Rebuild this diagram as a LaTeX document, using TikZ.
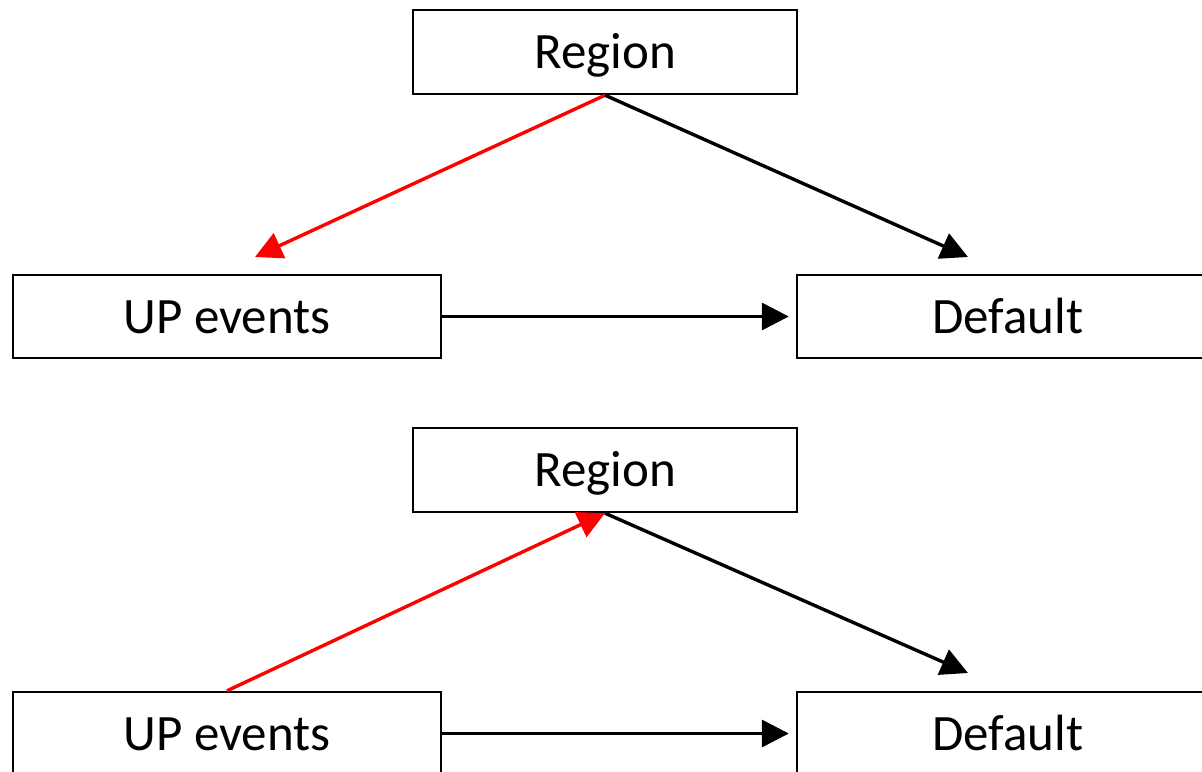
\documentclass[tikz,border=0pt]{standalone}
\usepackage{fontspec}
\setmainfont{Carlito}
\usetikzlibrary{arrows.meta}
\begin{document}
\begin{tikzpicture}[x=1pt,y=-1pt,
  box/.style={draw=black,line width=2.4pt,inner sep=0pt,text height=33pt,text depth=0pt,font=\fontsize{51}{60}\selectfont},
  conn/.style={line width=3.4pt,-{Triangle[length=27pt,width=27pt]}},
  redconn/.style={conn,draw=red,fill=red}]
\useasboundingbox (0,0) rectangle (1202,771);
\begin{scope}
\clip (0,0) rectangle (1202,771);
% top panel
\node[box,minimum width=384pt,minimum height=84pt] (r1) at (605,52) {Region};
\node[box,minimum width=428pt,minimum height=83pt] (u1) at (227,316.5) {UP events};
\node[box,minimum width=422pt,minimum height=83pt] (d1) at (1008,316.5) {Default};
\coordinate (e1) at (255,257);
\coordinate (f1) at (968,257);
\draw[redconn] (r1.south) -- (e1);
\draw[conn] (r1.south) -- (f1);
\draw[conn] (u1.east) -- ([xshift=-7pt]d1.west);
% bottom panel
\node[box,minimum width=384pt,minimum height=84pt] (r2) at (605,470) {Region};
\node[box,minimum width=428pt,minimum height=83pt] (u2) at (227,733.5) {UP events};
\node[box,minimum width=422pt,minimum height=83pt] (d2) at (1008,733.5) {Default};
\coordinate (f2) at (968,673);
\draw[redconn] (u2.north) -- (r2.south);
\draw[conn] (r2.south) -- (f2);
\draw[conn] (u2.east) -- ([xshift=-7pt]d2.west);
\end{scope}
\end{tikzpicture}
\end{document}
